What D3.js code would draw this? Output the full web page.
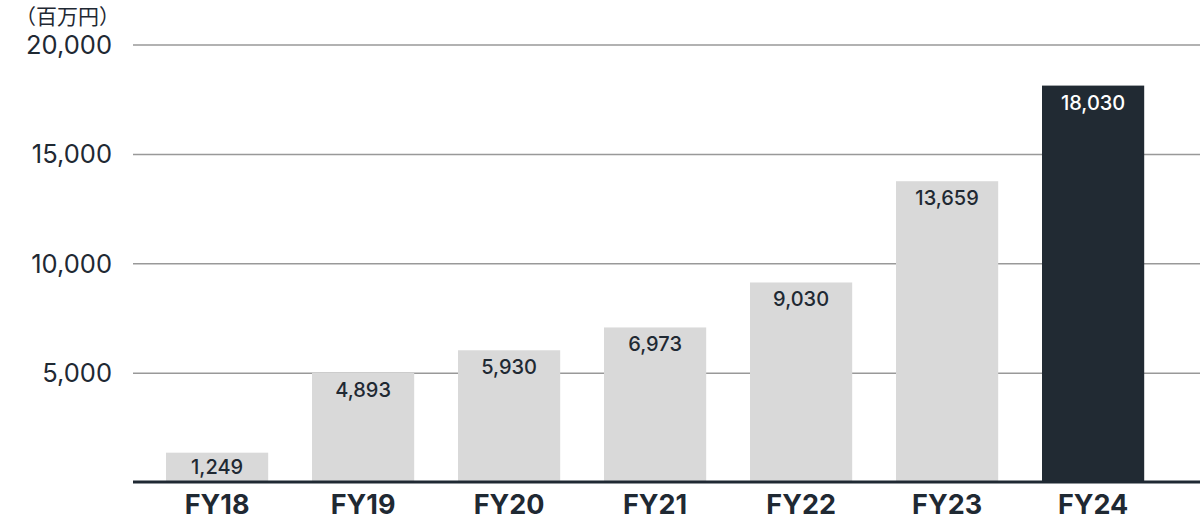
<!DOCTYPE html>
<html><head><meta charset="utf-8">
<script src="https://cdn.jsdelivr.net/npm/d3@7"></script>
<style>body{margin:0;background:#fff}svg{display:block}</style>
</head><body>
<svg id="c" width="1200" height="528"></svg>
<script>
const categories = ["FY18","FY19","FY20","FY21","FY22","FY23","FY24"];
const values = [1249,4893,5930,6973,9030,13659,18030];
const highlight = ["FY24"];
const yTicks = [5000,10000,15000,20000];
const unitLabel = "（百万円）";

(function(){
const svg = d3.select("#c");
const mLeft = 133, mRight = 1200, mTop = 44.5, mBottom = 482;
const dark = "#1f2933";
const barLift = 2;
const x = d3.scaleBand().domain(categories).range([93, 1217.2]).paddingInner(0.3).paddingOuter(0.5);
const y = d3.scaleLinear().domain([0,20000]).range([mBottom, mTop]);
const fmt = d3.format(",");

// grid
const gridAxis = d3.axisLeft(y).tickValues(yTicks).tickSize(-(mRight-mLeft)).tickFormat(fmt).tickPadding(21);
const g = svg.append("g").attr("transform",`translate(${mLeft},0)`).call(gridAxis);
g.select(".domain").remove();
g.selectAll(".tick line").attr("stroke","#999").attr("stroke-width",1.5);
g.selectAll(".tick text").attr("fill",dark).attr("font-family","Inter, sans-serif").attr("font-size",25.5).attr("dy","0.35em");

// bars
svg.append("g").selectAll("rect").data(values).join("rect")
  .attr("x",(d,i)=>x(categories[i]))
  .attr("width",x.bandwidth())
  .attr("y",d=>y(d)-barLift)
  .attr("height",d=>y(0)-y(d)+barLift)
  .attr("fill",(d,i)=>highlight.includes(categories[i]) ? "#212a33" : "#d9d9d9");

// value labels
svg.append("g").selectAll("text").data(values).join("text")
  .attr("x",(d,i)=>x(categories[i])+x.bandwidth()/2)
  .attr("y",d=>{
    const top = y(d)-barLift, h = y(0)-top;
    return h < 40 ? top + h/2 + 7 : top + 24;
  })
  .attr("text-anchor","middle")
  .attr("font-family","Inter, sans-serif")
  .attr("font-size",20)
  .attr("font-weight",500)
  .attr("fill",(d,i)=>highlight.includes(categories[i]) ? "#fff" : dark)
  .text(d=>fmt(d));

// baseline + category axis
const xa = svg.append("g").attr("transform",`translate(0,${mBottom})`).call(d3.axisBottom(x).tickSize(0).tickPadding(32));
xa.select(".domain").remove();
xa.selectAll("text").attr("fill",dark).attr("font-family","Inter, sans-serif").attr("font-size",27).attr("font-weight",700).attr("dy","0");
svg.append("line").attr("x1",mLeft).attr("x2",mRight).attr("y1",mBottom).attr("y2",mBottom).attr("stroke",dark).attr("stroke-width",3);

svg.append("text").attr("x",15).attr("y",24).attr("font-family","'Noto Sans CJK JP', sans-serif").attr("font-size",21).attr("fill",dark).text(unitLabel);
})();
</script>
</body></html>
